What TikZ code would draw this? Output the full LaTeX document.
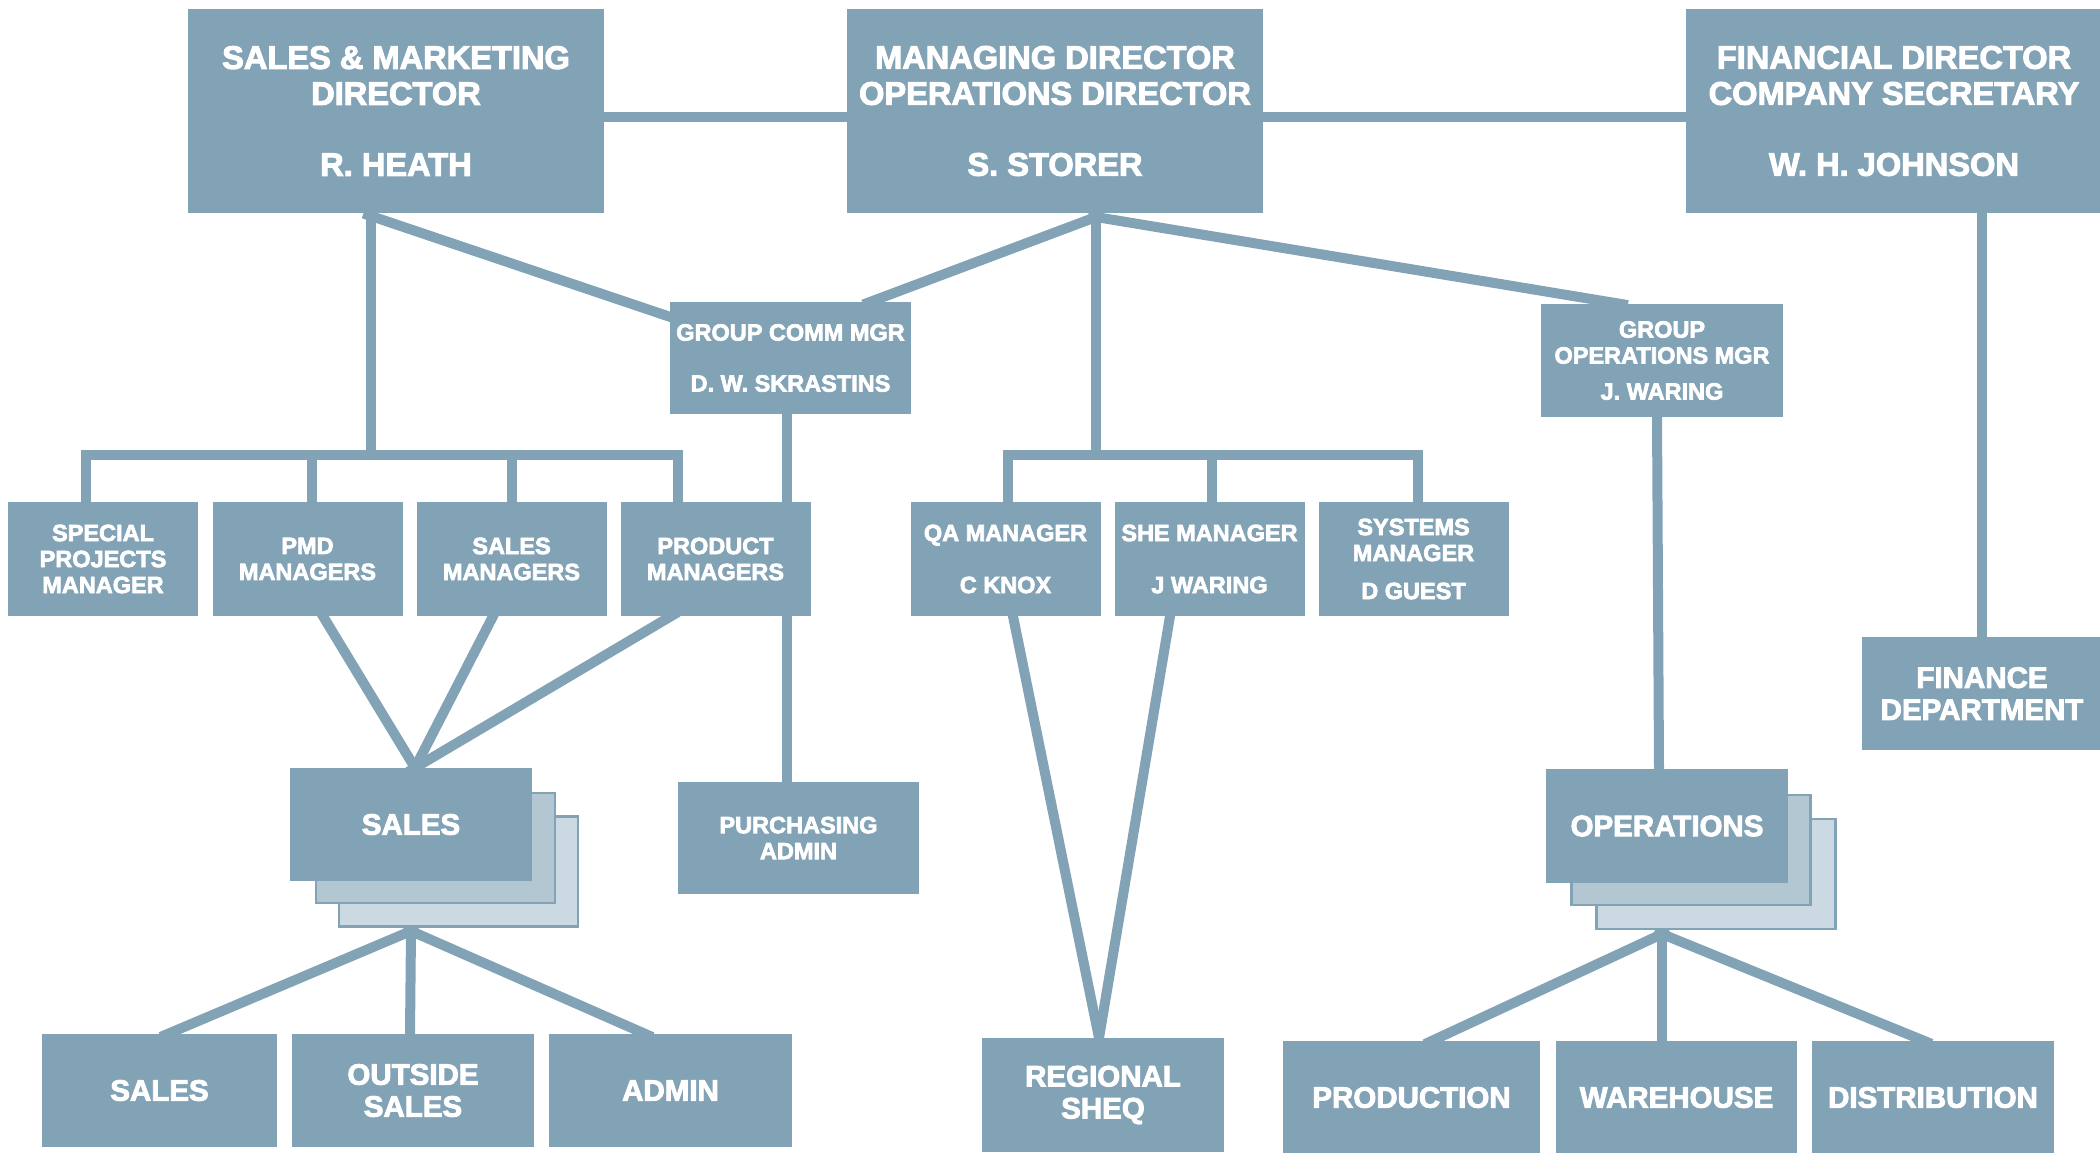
\documentclass[tikz,border=0pt]{standalone}
\usepackage{fontspec}
\setmainfont{Liberation Sans}[BoldFeatures={FakeBold=3}]
\usepackage{tikz}
\usetikzlibrary{backgrounds}
\definecolor{boxblue}{RGB}{130,162,182}
\definecolor{stackmid}{RGB}{179,199,211}
\definecolor{stackback}{RGB}{203,217,226}

\begin{document}
\begin{tikzpicture}[x=1pt,y=-1pt,
		unit/.style = {fill=boxblue, text=white, inner sep=0pt, align=center},
		director/.style = {unit, minimum width=416pt, minimum height=204pt, font=\fontsize{32.6}{36}\selectfont\bfseries},
		manager/.style = {unit, minimum width=190pt, minimum height=114pt, font=\fontsize{23.5}{26}\selectfont\bfseries},
		dept/.style = {unit, minimum width=242pt, minimum height=113pt, font=\fontsize{29.5}{32}\selectfont\bfseries},
		sheet/.style = {draw=boxblue, line width=2.5pt, minimum width=239pt, minimum height=110pt, inner sep=0pt},
		link/.style = {draw=boxblue, line width=10pt, shorten <=-8pt, shorten >=-8pt},
		tobar/.style = {shorten >=0pt}
			]
		\useasboundingbox (0,0) rectangle (2100,1152);

		\node[director] (Heath) at (396,111) {SALES \& MARKETING\\DIRECTOR\\[35pt]R. HEATH};
		\node[director] (Storer) at (1055,111) {MANAGING DIRECTOR\\OPERATIONS DIRECTOR\\[35pt]S. STORER};
		\node[director] (Johnson) at (1894,111) {FINANCIAL DIRECTOR\\COMPANY SECRETARY\\[35pt]W. H. JOHNSON};

		\node[manager, minimum width=241pt, minimum height=112pt] (Skrastins) at (790.5,358) {GROUP COMM MGR\\[25pt]D. W. SKRASTINS};
		\node[manager, minimum width=242pt, minimum height=113pt] (OpsMgr) at (1662,360.5) {GROUP\\OPERATIONS MGR\\[10pt]J. WARING};

		\node[manager] (Special) at (103,559) {SPECIAL\\PROJECTS\\MANAGER};
		\node[manager] (PMD) at (307.5,559) {PMD\\MANAGERS};
		\node[manager] (SalesMgr) at (511.5,559) {SALES\\MANAGERS};
		\node[manager] (Product) at (715.5,559) {PRODUCT\\MANAGERS};
		\node[manager] (QA) at (1005.5,559) {QA MANAGER\\[26pt]C KNOX};
		\node[manager] (SHE) at (1209.5,559) {SHE MANAGER\\[26pt]J WARING};
		\node[manager] (Systems) at (1413.5,559) {SYSTEMS\\MANAGER\\[12pt]D GUEST};

		\node[sheet, fill=stackback] (SalesBack) at (458.5,871.5) {};
		\node[sheet, fill=stackmid] (SalesMid) at (435.5,848) {};
		\node[dept] (Sales) at (411,824.5) {SALES};
		\node[manager, minimum width=241pt, minimum height=112pt] (Purchasing) at (798.5,838) {PURCHASING\\ADMIN};

		\node[sheet, fill=stackback] (OpsBack) at (1716,874) {};
		\node[sheet, fill=stackmid] (OpsMid) at (1691,850) {};
		\node[dept, minimum height=114pt] (Operations) at (1667,826) {OPERATIONS};
		\node[dept, minimum width=240pt] (Finance) at (1982,693.5) {FINANCE\\DEPARTMENT};

		\node[dept, minimum width=235pt] (SalesDept) at (159.5,1090.5) {SALES};
		\node[dept] (Outside) at (413,1090.5) {OUTSIDE\\SALES};
		\node[dept, minimum width=243pt] (Admin) at (670.5,1090.5) {ADMIN};
		\node[dept, minimum height=114pt] (SHEQ) at (1103,1095) {REGIONAL\\SHEQ};
		\node[dept, minimum width=257pt] (Production) at (1411.5,1097.5) {PRODUCTION};
		\node[dept, minimum width=241pt] (Warehouse) at (1676.5,1097.5) {WAREHOUSE};
		\node[dept] (Distribution) at (1933,1097.5) {DISTRIBUTION};

		\coordinate (HeathFoot) at (371,216);
		\coordinate (StorerFoot) at (1096,217);
		\coordinate (MgrBar) at (371,455);
		\coordinate (QABar) at (1096,455);
		\coordinate (SalesFoot) at (411,931);
		\coordinate (OpsFoot) at (1662,934);

		\begin{scope}[on background layer]
		\draw[link] ([yshift=-6pt]Heath.east) -- ([yshift=-6pt]Storer.west);
		\draw[link] ([yshift=-6pt]Storer.east) -- ([yshift=-6pt]Johnson.west);

		\draw[link, tobar] (HeathFoot) -- (MgrBar);
		\draw[link] ([xshift=-17pt]Special.north) |- (MgrBar) -| ([xshift=-38pt]Product.north);
		\draw[link, tobar] ([xshift=4pt]PMD.north) -- ++(0,-47);
		\draw[link, tobar] (SalesMgr.north) -- ++(0,-47);
		\draw[link] (HeathFoot) -- ([yshift=-15pt]Skrastins.north west);

		\draw[link] (StorerFoot) -- ([xshift=80pt]Skrastins.north);
		\draw[link, tobar] (StorerFoot) -- (QABar);
		\draw[link] ([xshift=2pt]QA.north) |- (QABar) -| ([xshift=4pt]Systems.north);
		\draw[link, tobar] ([xshift=2pt]SHE.north) -- ++(0,-47);
		\draw[link] (StorerFoot) -- ([xshift=-42pt]OpsMgr.north);

		\draw[link] ([xshift=-5pt]OpsMgr.south) -- ([xshift=-8pt]Operations.north);
		\draw[link] ([xshift=88pt]Johnson.south) -- (Finance.north);
		\draw[link] ([xshift=-4pt]Skrastins.south) -- ([xshift=-12pt]Purchasing.north);

		\draw[link] ([xshift=15.5pt]PMD.south) -- ([xshift=4pt]Sales.north);
		\draw[link] ([xshift=-18.5pt]SalesMgr.south) -- ([xshift=4pt]Sales.north);
		\draw[link] ([xshift=-44.5pt]Product.south) -- ([xshift=4pt]Sales.north);

		\draw[link] ([xshift=7.5pt]QA.south) -- ([xshift=-4pt]SHEQ.north);
		\draw[link] ([xshift=-39.5pt]SHE.south) -- ([xshift=-4pt]SHEQ.north);

		\draw[link] (SalesFoot) -- ([xshift=8.5pt]SalesDept.north);
		\draw[link] (SalesFoot) -- ([xshift=-3pt]Outside.north);
		\draw[link] (SalesFoot) -- ([xshift=-25.5pt]Admin.north);

		\draw[link] (OpsFoot) -- ([xshift=20.5pt]Production.north);
		\draw[link] (OpsFoot) -- ([xshift=-14.5pt]Warehouse.north);
		\draw[link] (OpsFoot) -- ([xshift=-9pt]Distribution.north);
		\end{scope}

	\end{tikzpicture}
\end{document}
